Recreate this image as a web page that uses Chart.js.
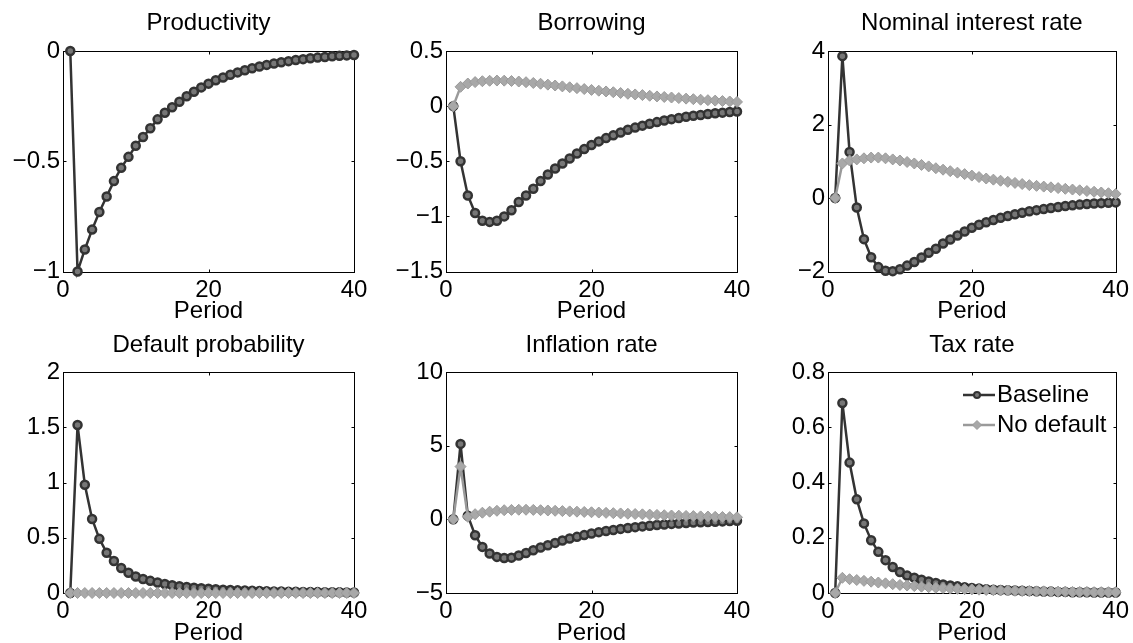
<!DOCTYPE html>
<html><head><meta charset="utf-8">
<script src="https://cdn.jsdelivr.net/npm/chart.js@4.4.1/dist/chart.umd.min.js"></script>
<style>
html,body{margin:0;padding:0;background:#fff;width:1133px;height:643px;overflow:hidden;position:relative}
canvas{position:absolute}
</style></head><body>
<canvas id="c0"></canvas><canvas id="c1"></canvas><canvas id="c2"></canvas>
<canvas id="c3"></canvas><canvas id="c4"></canvas><canvas id="c5"></canvas>
<script>
// ---------- data ----------
const periods = [1,2,3,4,5,6,7,8,9,10,11,12,13,14,15,16,17,18,19,20,21,22,23,24,25,26,27,28,29,30,31,32,33,34,35,36,37,38,39,40];
const titles = ['Productivity','Borrowing','Nominal interest rate','Default probability','Inflation rate','Tax rate'];
const seriesNames = ['Baseline','No default'];
const xTicks = [0,20,40];
const yTicks1 = [-1,-0.5,0];
const yTicks2 = [-1.5,-1,-0.5,0,0.5];
const yTicks3 = [-2,0,2,4];
const yTicks4 = [0,0.5,1,1.5,2];
const yTicks5 = [-5,0,5,10];
const yTicks6 = [0,0.2,0.4,0.6,0.8];

const prodBase = [0,-1,-0.9,-0.81,-0.73,-0.66,-0.59,-0.53,-0.48,-0.43,-0.39,-0.35,-0.31,-0.28,-0.255,-0.23,-0.205,-0.185,-0.165,-0.148,-0.133,-0.12,-0.108,-0.097,-0.087,-0.078,-0.07,-0.063,-0.057,-0.051,-0.046,-0.041,-0.037,-0.033,-0.03,-0.027,-0.024,-0.022,-0.02,-0.018];

const borrowBase = [0,-0.5,-0.81,-0.97,-1.04,-1.05,-1.04,-1.0,-0.945,-0.87,-0.81,-0.75,-0.68,-0.62,-0.565,-0.52,-0.475,-0.43,-0.39,-0.352,-0.32,-0.29,-0.265,-0.24,-0.215,-0.195,-0.177,-0.16,-0.145,-0.13,-0.118,-0.107,-0.097,-0.088,-0.08,-0.072,-0.065,-0.059,-0.053,-0.048];
const borrowNoDef = [0,0.175,0.205,0.218,0.226,0.23,0.232,0.231,0.228,0.223,0.217,0.21,0.203,0.195,0.187,0.179,0.171,0.163,0.155,0.147,0.14,0.133,0.126,0.119,0.112,0.106,0.1,0.094,0.088,0.083,0.078,0.073,0.068,0.063,0.058,0.054,0.05,0.046,0.042,0.038];

const rateBase = [0,3.86,1.25,-0.26,-1.12,-1.61,-1.88,-1.98,-1.99,-1.94,-1.84,-1.74,-1.62,-1.49,-1.38,-1.24,-1.13,-1.02,-0.91,-0.81,-0.73,-0.66,-0.6,-0.54,-0.49,-0.44,-0.4,-0.36,-0.33,-0.3,-0.27,-0.245,-0.22,-0.2,-0.18,-0.165,-0.15,-0.14,-0.13,-0.12];
const rateNoDef = [0,0.94,1.02,1.05,1.08,1.1,1.1,1.08,1.05,1.02,0.98,0.94,0.9,0.86,0.81,0.77,0.73,0.69,0.65,0.61,0.57,0.53,0.5,0.47,0.44,0.41,0.38,0.35,0.33,0.31,0.29,0.27,0.25,0.23,0.21,0.19,0.17,0.15,0.13,0.11];

const defBase = [0,1.52,0.98,0.67,0.49,0.365,0.29,0.226,0.184,0.15,0.127,0.11,0.095,0.082,0.07,0.062,0.055,0.048,0.043,0.038,0.034,0.03,0.027,0.024,0.022,0.02,0.018,0.016,0.014,0.013,0.012,0.011,0.01,0.009,0.008,0.007,0.006,0.006,0.005,0.005];
const defNoDef = [0,0,0,0,0,0,0,0,0,0,0,0,0,0,0,0,0,0,0,0,0,0,0,0,0,0,0,0,0,0,0,0,0,0,0,0,0,0,0,0];

const inflBase = [0,5.12,0.24,-1.08,-1.87,-2.32,-2.55,-2.62,-2.6,-2.46,-2.28,-2.1,-1.91,-1.76,-1.6,-1.44,-1.3,-1.19,-1.07,-0.96,-0.87,-0.79,-0.72,-0.65,-0.59,-0.53,-0.48,-0.43,-0.39,-0.35,-0.31,-0.28,-0.25,-0.22,-0.2,-0.18,-0.16,-0.14,-0.12,-0.1];
const inflNoDef = [0,3.58,0.17,0.35,0.45,0.52,0.58,0.62,0.64,0.65,0.65,0.64,0.62,0.6,0.58,0.56,0.54,0.52,0.5,0.48,0.46,0.44,0.42,0.4,0.38,0.36,0.34,0.32,0.3,0.28,0.26,0.25,0.23,0.22,0.2,0.19,0.17,0.16,0.15,0.14];

const taxBase = [0,0.688,0.472,0.339,0.252,0.191,0.149,0.119,0.094,0.076,0.063,0.055,0.048,0.042,0.036,0.031,0.027,0.024,0.021,0.018,0.016,0.014,0.012,0.011,0.01,0.009,0.008,0.007,0.006,0.005,0.005,0.004,0.004,0.003,0.003,0.003,0.002,0.002,0.002,0.002];
const taxNoDef = [0,0.055,0.05,0.047,0.044,0.041,0.038,0.035,0.032,0.029,0.027,0.025,0.023,0.021,0.019,0.018,0.016,0.015,0.014,0.013,0.012,0.011,0.01,0.009,0.009,0.008,0.007,0.007,0.006,0.006,0.005,0.005,0.005,0.004,0.004,0.004,0.003,0.003,0.003,0.003];

const panelSeries = [
  [prodBase, null],
  [borrowBase, borrowNoDef],
  [rateBase, rateNoDef],
  [defBase, defNoDef],
  [inflBase, inflNoDef],
  [taxBase, taxNoDef]
];
const panelYTicks = [yTicks1,yTicks2,yTicks3,yTicks4,yTicks5,yTicks6];

// ---------- layout (pixels) ----------
const FS = 24, LH = FS * 1.2;
const cols = [ {L:0, W:374, left:63, right:354}, {L:370, W:387, left:446, right:737}, {L:750, W:383, left:828, right:1118} ];
const rows = [ {T:0, H:330, top:51, bottom:271.5, titleC:23.7, xTitleC:311.7},
               {T:321, H:330, top:372, bottom:593, titleC:345, xTitleC:633.2} ];
const legendPos = {x:963, y:377};

// ---------- styles ----------
const DARK = '#333333', GREY = '#9a9a9a';
Chart.defaults.font.family = '"Liberation Sans", Arial, Helvetica, sans-serif';
Chart.defaults.font.size = FS;
Chart.defaults.color = '#000';

function fmt(v){ const s = String(Number(v.toFixed(3))); return s.replace('-', '\u2212'); }

const framePlugin = {
  id: 'frame',
  beforeDatasetsDraw(chart) {
    const {ctx, chartArea: a, scales} = chart;
    const x = scales.x, y = scales.y;
    const l = Math.round(a.left) + 0.5, r = Math.round(a.right) + 0.5, t = Math.round(a.top) + 0.5, b = Math.round(a.bottom) + 0.5;
    ctx.save();
    ctx.strokeStyle = '#000';
    ctx.lineWidth = 1;
    ctx.strokeRect(l, t, r - l, b - t);
    ctx.beginPath();
    const tl = 3;
    x.ticks.forEach(tk => {
      const px = Math.round(x.getPixelForValue(tk.value)) + 0.5;
      ctx.moveTo(px, b); ctx.lineTo(px, b - tl);
      ctx.moveTo(px, t); ctx.lineTo(px, t + tl);
    });
    y.ticks.forEach(tk => {
      const py = Math.round(y.getPixelForValue(tk.value)) + 0.5;
      ctx.moveTo(l, py); ctx.lineTo(l + tl, py);
      ctx.moveTo(r, py); ctx.lineTo(r - tl, py);
    });
    ctx.stroke();
    ctx.restore();
  }
};

function legendImage(kind) {
  const c = document.createElement('canvas');
  c.width = 36; c.height = 12;
  const g = c.getContext('2d');
  const col = kind === 0 ? DARK : GREY;
  g.strokeStyle = col; g.lineWidth = 2.5;
  g.beginPath(); g.moveTo(0, 6); g.lineTo(36, 6); g.stroke();
  if (kind === 0) {
    g.beginPath(); g.arc(18, 6, 3, 0, Math.PI * 2);
    g.fillStyle = '#777'; g.fill();
    g.lineWidth = 2; g.strokeStyle = DARK; g.stroke();
  } else {
    g.beginPath(); g.moveTo(18, 1.5); g.lineTo(22.5, 6); g.lineTo(18, 10.5); g.lineTo(13.5, 6); g.closePath();
    g.fillStyle = '#a8a8a8'; g.fill();
    g.lineWidth = 1; g.strokeStyle = GREY; g.stroke();
  }
  return c;
}
const legendImgs = [legendImage(0), legendImage(1)];

function pts(vals){ return periods.map((p, i) => ({x: p, y: vals[i]})); }

for (let i = 0; i < 6; i++) {
  const col = cols[i % 3], row = rows[Math.floor(i / 3)];
  const cv = document.getElementById('c' + i);
  cv.width = col.W; cv.height = row.H;
  cv.style.left = col.L + 'px'; cv.style.top = row.T + 'px';
  cv.style.width = col.W + 'px'; cv.style.height = row.H + 'px';

  const yw = col.left - col.L;
  const padR = col.L + col.W - col.right;
  const xh = row.T + row.H - row.bottom;
  const tTop = row.titleC - row.T - LH / 2;
  const tBot = (row.top - row.T) - tTop - LH;
  const xTitleBot = row.T + row.H - LH / 2 - row.xTitleC;
  const yt = panelYTicks[i];

  const [base, nodef] = panelSeries[i];
  const datasets = [{
    label: seriesNames[0], data: pts(base),
    borderColor: DARK, borderWidth: 2.5, tension: 0,
    pointStyle: 'circle', pointRadius: 4, pointBorderWidth: 2.5,
    pointBorderColor: DARK, pointBackgroundColor: '#777',
    order: 2, clip: false
  }];
  if (nodef) datasets.push({
    label: seriesNames[1], data: pts(nodef),
    borderColor: GREY, borderWidth: 2.5, tension: 0,
    pointStyle: 'rectRot', pointRadius: 5.5, pointBorderWidth: 1,
    pointBorderColor: GREY, pointBackgroundColor: '#a8a8a8',
    order: 1, clip: false
  });

  const showLegend = (i === 5);
  const plugins = [framePlugin];
  if (showLegend) plugins.push({
    id: 'legendPlace',
    afterLayout(chart) {
      if (chart.legend) {
        chart.legend.left = legendPos.x - col.L;
        chart.legend.top = legendPos.y - row.T;
      }
    }
  });

  new Chart(cv, {
    type: 'line',
    data: { datasets },
    plugins,
    options: {
      responsive: false, animation: false, devicePixelRatio: 1,
      layout: { padding: { left: 0, right: padR, top: 0, bottom: 0 } },
      plugins: {
        title: { display: true, fullSize: false, text: titles[i], color: '#000', font: { size: FS, weight: 'normal' }, padding: { top: tTop, bottom: tBot } },
        legend: {
          display: showLegend, position: 'chartArea', align: 'start',
          labels: {
            usePointStyle: true, pointStyleWidth: 16, boxHeight: 12, padding: 6,
            color: '#000', font: { size: FS },
            generateLabels(chart) {
              return chart.data.datasets.map((d, k) => ({
                text: d.label, pointStyle: legendImgs[k], datasetIndex: k,
                hidden: false, lineWidth: 0, fontColor: '#000', strokeStyle: 'transparent', fillStyle: 'transparent'
              }));
            }
          }
        },
        tooltip: { enabled: false }
      },
      scales: {
        x: {
          type: 'linear', min: 0, max: 40,
          afterBuildTicks(s) { s.ticks = xTicks.map(v => ({ value: v })); },
          afterFit(s) { s.height = xh; },
          grid: { display: false, drawTicks: false, tickLength: 0 }, border: { display: false },
          ticks: { padding: 4, maxRotation: 0, autoSkip: false, color: '#000', font: { size: FS }, callback: v => fmt(v) },
          title: { display: true, text: 'Period', color: '#000', font: { size: FS }, padding: { top: 0, bottom: xTitleBot } }
        },
        y: {
          type: 'linear', min: yt[0], max: yt[yt.length - 1],
          afterBuildTicks(s) { s.ticks = yt.map(v => ({ value: v })); },
          afterFit(s) { s.width = yw; },
          grid: { display: false, drawTicks: false, tickLength: 0 }, border: { display: false },
          ticks: { padding: 3, autoSkip: false, color: '#000', font: { size: FS }, callback: v => fmt(v) }
        }
      }
    }
  });
}
</script>
</body></html>
